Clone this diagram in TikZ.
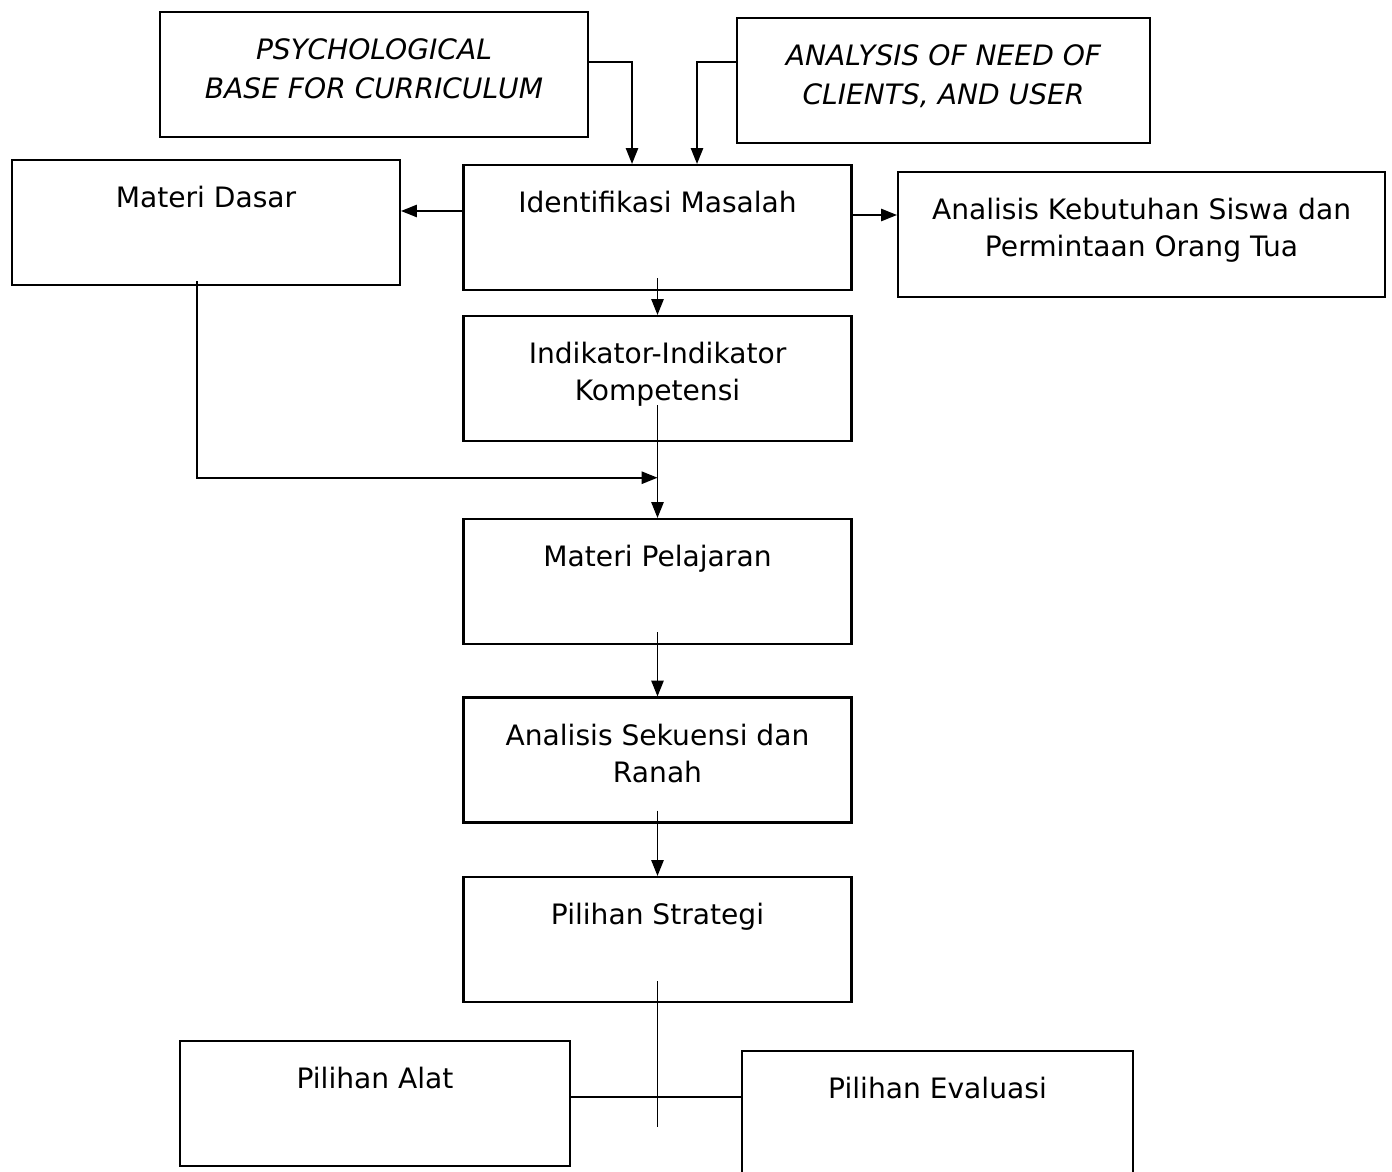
\documentclass[tikz,border=0pt]{standalone}
\usepackage{fontspec}
\setmainfont{DejaVu Sans}
\usetikzlibrary{arrows.meta, calc}

\begin{document}
\begin{tikzpicture}[>={Triangle[length=9pt,width=7pt]},
    kotak/.style={draw, line width=1.2pt, align=center, inner sep=0pt,
        minimum width=7.76cm, minimum height=2.5cm,
        text height=0.95cm, text depth=1.55cm,
        font=\fontsize{16}{21}\selectfont},
    duabaris/.style={kotak, text height=1.69cm, text depth=0.81cm},
    miring/.style={kotak, text height=1.73cm, text depth=0.77cm,
        font=\fontsize{16}{22}\selectfont\itshape},
    panah/.style={->, line width=0.9pt},
    garis/.style={line width=0.9pt}]
    \useasboundingbox (0,0) rectangle (27.84,-23.42);

    % kotak-kotak
    \node[miring, minimum width=8.56cm] (psikologi) at (7.48,-1.49) {PSYCHOLOGICAL\\BASE FOR CURRICULUM};
    \node[miring, minimum width=8.26cm] (kebutuhan) at (18.87,-1.61) {ANALYSIS OF NEED OF\\CLIENTS, AND USER};
    \node[kotak] (dasar) at (4.12,-4.45) {Materi Dasar};
    \node[kotak] (identifikasi) at (13.15,-4.55) {Identifikasi Masalah};
    \node[duabaris, minimum width=9.74cm] (analisis) at (22.83,-4.69) {Analisis Kebutuhan Siswa dan\\Permintaan Orang Tua};
    \node[duabaris] (indikator) at (13.15,-7.57) {Indikator-Indikator\\Kompetensi};
    \node[kotak] (pelajaran) at (13.15,-11.63) {Materi Pelajaran};
    \node[duabaris] (sekuensi) at (13.15,-15.2) {Analisis Sekuensi dan\\Ranah};
    \node[kotak] (strategi) at (13.15,-18.79) {Pilihan Strategi};
    \node[kotak, minimum width=7.8cm] (alat) at (7.5,-22.07) {Pilihan Alat};
    \node[kotak, minimum width=7.82cm] (evaluasi) at (18.75,-22.27) {Pilihan Evaluasi};

    % panah
    \draw[panah] ([yshift=0.25cm]psikologi.east) -| ([xshift=-0.51cm]identifikasi.north);
    \draw[panah] ([yshift=0.37cm]kebutuhan.west) -| ([xshift=0.79cm]identifikasi.north);
    \draw[panah] ([yshift=0.33cm]identifikasi.west) -- ([yshift=0.23cm]dasar.east);
    \draw[panah] ([yshift=0.25cm]identifikasi.east) -- ([yshift=0.39cm]analisis.west);
    \draw[panah] ([yshift=0.26cm]identifikasi.south) -- (indikator.north);
    \draw[panah] ([yshift=0.74cm]indikator.south) -- (pelajaran.north);
    \coordinate (temu) at ($(indikator.south)!0.47!(pelajaran.north)$);
    \draw[panah] ([xshift=-0.18cm,yshift=0.1cm]dasar.south) |- (temu);
    \draw[panah] ([yshift=0.26cm]pelajaran.south) -- (sekuensi.north);
    \draw[panah] ([yshift=0.26cm]sekuensi.south) -- (strategi.north);
    \draw[garis] ([yshift=0.44cm]strategi.south) -- ($(strategi.south |- alat.south)+(0,0.8)$);
    \draw[garis] ([yshift=0.13cm]alat.east) -- ([yshift=0.33cm]evaluasi.west);
\end{tikzpicture}
\end{document}
